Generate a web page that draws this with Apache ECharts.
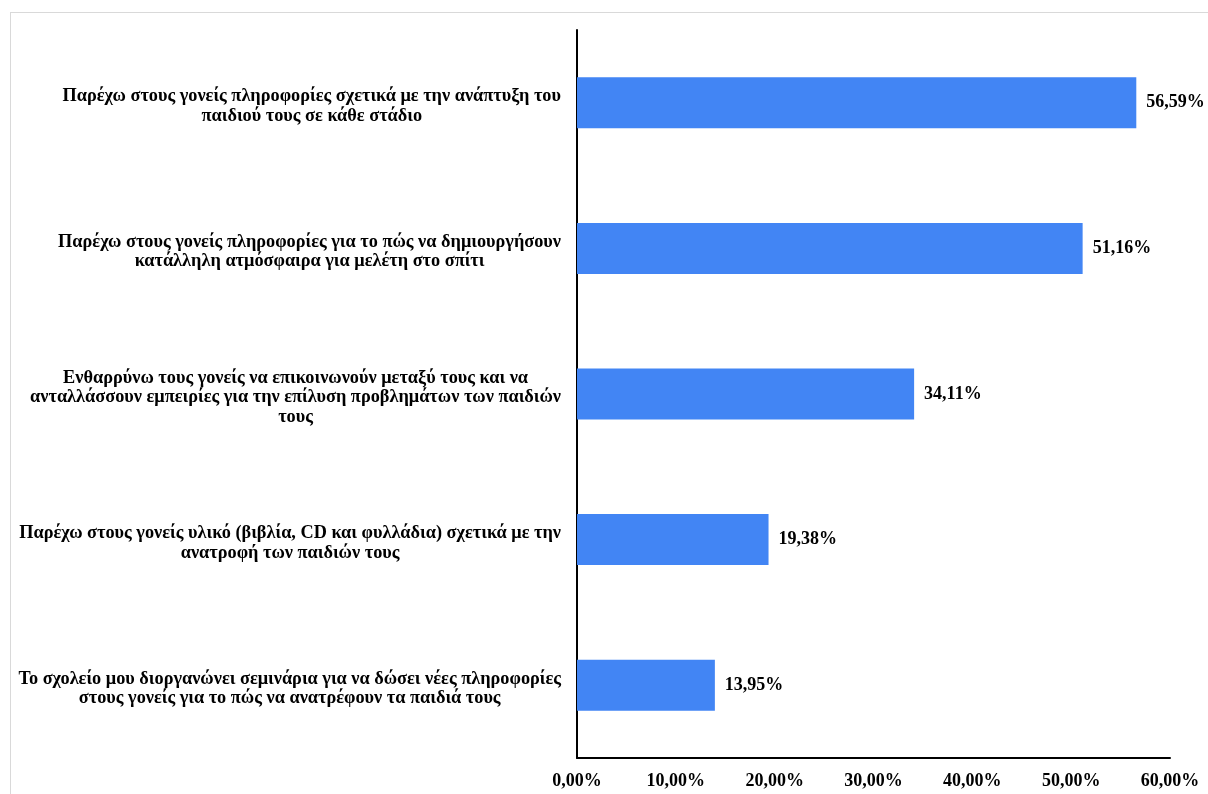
<!DOCTYPE html>
<html>
<head>
<meta charset="utf-8">
<script src="https://cdn.jsdelivr.net/npm/echarts@6/dist/echarts.min.js"></script>
<style>
  html, body { margin: 0; padding: 0; background: #fff; }
  #frame {
    position: absolute; left: 10px; top: 12px; width: 1210px; height: 800px;
    border: 1px solid #d9d9d9; box-sizing: border-box;
  }
  #chart { position: absolute; left: 0; top: 0; width: 1208px; height: 794px; }
</style>
</head>
<body>
<div id="frame"></div>
<div id="chart"></div>
<script>
// κατηγορίες (με αλλαγές γραμμής όπως στο πρωτότυπο)
const categories = [
  'Παρέχω στους γονείς πληροφορίες σχετικά με την ανάπτυξη του\nπαιδιού τους σε κάθε στάδιο',
  'Παρέχω στους γονείς πληροφορίες για το πώς να δημιουργήσουν\nκατάλληλη ατμόσφαιρα για μελέτη στο σπίτι',
  'Ενθαρρύνω τους γονείς να επικοινωνούν μεταξύ τους και να\nανταλλάσσουν εμπειρίες για την επίλυση προβλημάτων των παιδιών\nτους',
  'Παρέχω στους γονείς υλικό (βιβλία, CD και φυλλάδια) σχετικά με την\nανατροφή των παιδιών τους',
  'Το σχολείο μου διοργανώνει σεμινάρια για να δώσει νέες πληροφορίες\nστους γονείς για το πώς να ανατρέφουν τα παιδιά τους'
];
const values = [56.59, 51.16, 34.11, 19.38, 13.95];
const xTicks = [0, 10, 20, 30, 40, 50, 60];

const fmtPct = v => v.toFixed(2).replace('.', ',') + '%';
const serif = '"Liberation Serif", "DejaVu Serif", serif';

const chart = echarts.init(document.getElementById('chart'));
chart.setOption({
  animation: false,
  grid: { left: 577, right: 38, top: 30, bottom: 36 },
  xAxis: {
    type: 'value',
    min: xTicks[0],
    max: xTicks[xTicks.length - 1],
    interval: 10,
    axisLine: { show: true, lineStyle: { color: '#000', width: 2 } },
    axisTick: { show: false },
    splitLine: { show: false },
    axisLabel: {
      formatter: v => fmtPct(v),
      color: '#000', fontFamily: serif, fontWeight: 'bold', fontSize: 18, margin: 14
    }
  },
  yAxis: {
    type: 'category',
    inverse: true,
    data: categories,
    axisLine: { show: true, lineStyle: { color: '#000', width: 2 } },
    axisTick: { show: false },
    axisLabel: {
      margin: 16,
      padding: [7, 0, 0, 0],
      formatter: v => v.split('\n').map(l => '{c|' + l + '}').join('\n'),
      rich: {
        c: {
          align: 'center', color: '#000', fontFamily: serif,
          fontWeight: 'bold', fontSize: 18.3, lineHeight: 19.5
        }
      }
    }
  },
  series: [{
    type: 'bar',
    data: values,
    barWidth: 51,
    itemStyle: { color: '#4285f4' },
    label: {
      show: true, position: 'right', distance: 10,
      formatter: p => fmtPct(p.value),
      color: '#000', fontFamily: serif, fontWeight: 'bold', fontSize: 18
    }
  }]
});
</script>
</body>
</html>
